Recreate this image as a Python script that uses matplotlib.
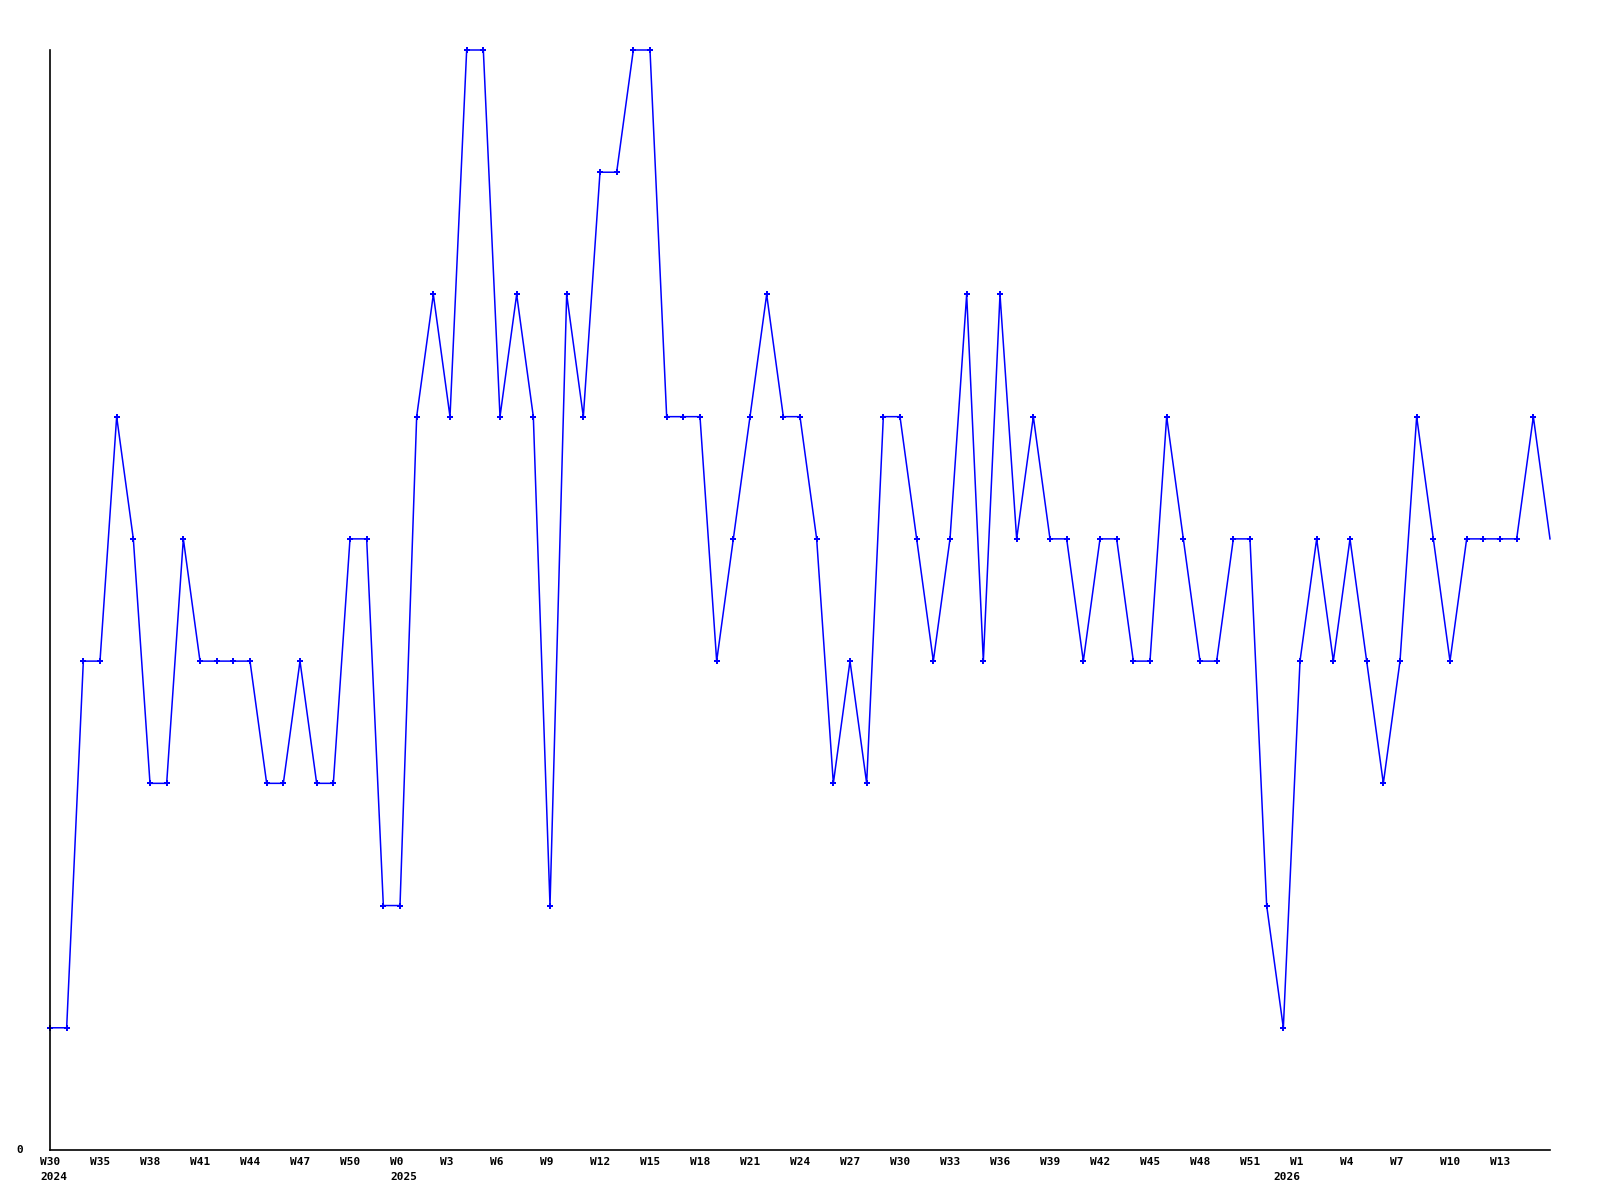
import matplotlib
matplotlib.use("Agg")
import matplotlib.pyplot as plt
from matplotlib.transforms import blended_transform_factory

values = [1, 1, 4, 4, 6, 5, 3, 3, 5, 4, 4, 4, 4, 3, 3, 4, 3, 3, 5, 5,
          2, 2, 6, 7, 6, 9, 9, 6, 7, 6, 2, 7, 6, 8, 8, 9, 9, 6, 6, 6,
          4, 5, 6, 7, 6, 6, 5, 3, 4, 3, 6, 6, 5, 4, 5, 7, 4, 7, 5, 6,
          5, 5, 4, 5, 5, 4, 4, 6, 5, 4, 4, 5, 5, 2, 1, 4, 5, 4, 5, 4,
          3, 4, 6, 5, 4, 5, 5, 5, 5, 6, 5]
week_labels = ["W30", "W35", "W38", "W41", "W44", "W47", "W50", "W0", "W3", "W6",
               "W9", "W12", "W15", "W18", "W21", "W24", "W27", "W30", "W33", "W36",
               "W39", "W42", "W45", "W48", "W51", "W1", "W4", "W7", "W10", "W13"]
year_labels = ["2024", "2025", "2026"]
year_weeks = [0, 21, 74]
y_labels = ["0"]

W, H = 1600, 1200
fig = plt.figure(figsize=(16, 12), dpi=100)
ax = fig.add_axes([50 / W, 50 / H, 1500 / W, 1100 / H])

x = list(range(len(values)))
ax.plot(x, values, color="#0000ff", linewidth=1.1, marker="P", markersize=4.5,
        markeredgewidth=0, markevery=list(range(len(values) - 1)), clip_on=False)
ax.set_xlim(0, len(values) - 1)
ax.set_ylim(0, 9)

for s in ["top", "right"]:
    ax.spines[s].set_visible(False)
for s in ["left", "bottom"]:
    ax.spines[s].set_linewidth(1.2)
    ax.spines[s].set_color("black")
ax.set_xticks([])
ax.set_yticks([])

font = dict(family="DejaVu Sans Mono", fontweight="bold", fontsize=8)
trans = blended_transform_factory(ax.transData, ax.transAxes)
for k, lab in enumerate(week_labels):
    xi = 3 * k
    ax.annotate(lab, xy=(xi, 0), xycoords=trans, xytext=(-7.2, -5),
                textcoords="offset points", ha="left", va="top", **font)
for lab, xi in zip(year_labels, year_weeks):
    ax.annotate(lab, xy=(xi, 0), xycoords=trans, xytext=(-7.2, -16),
                textcoords="offset points", ha="left", va="top", **font)

ax.annotate(y_labels[0], xy=(0, 0), xycoords="axes fraction", xytext=(-21.6, 0),
            textcoords="offset points", ha="center", va="center", **font)

fig.savefig("out.png", dpi=100, facecolor="white")
